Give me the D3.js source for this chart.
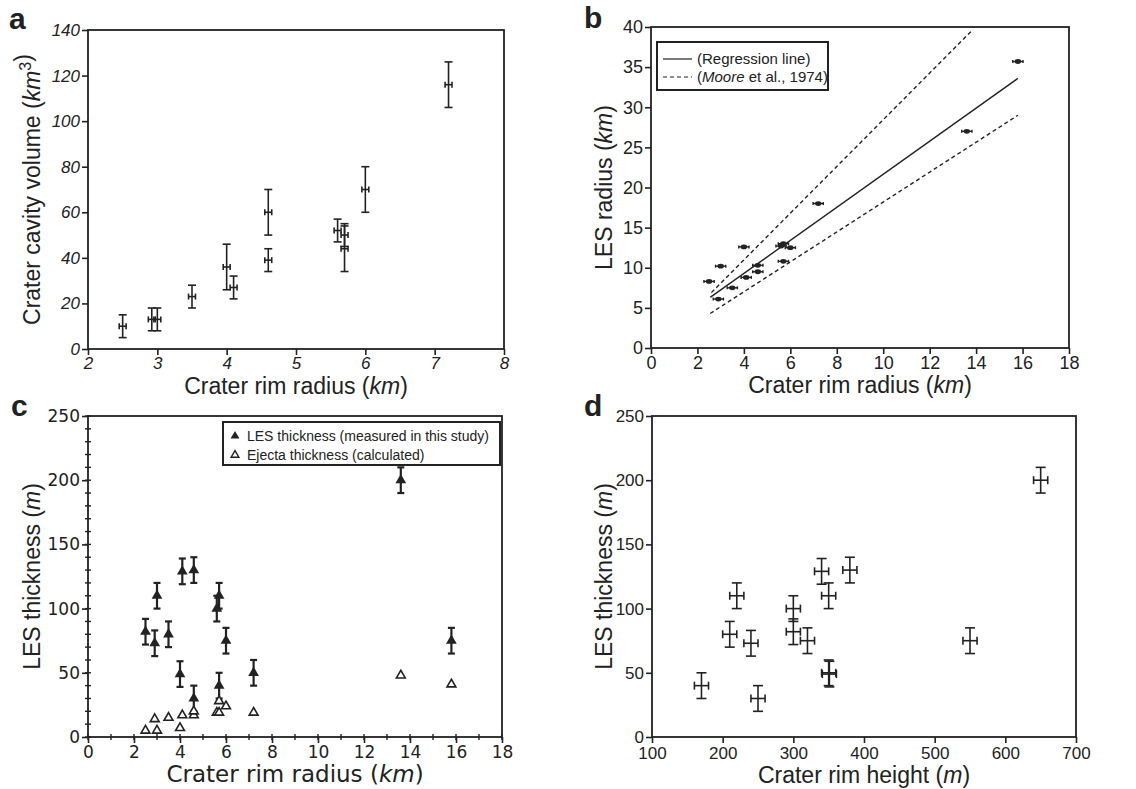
<!DOCTYPE html>
<html lang="en">
<head>
<meta charset="UTF-8">
<title>Crater rim radius vs LES</title>
<script src="https://cdn.jsdelivr.net/npm/d3@7"></script>
<style>
  body { margin: 0; background: #fff; }
  svg { display: block; }
</style>
</head>
<body>
<svg id="fig" width="1136" height="789"></svg>
<script>
// --- panel a: crater cavity volume vs crater rim radius
const aRimRadius = [2.5, 2.92, 3.0, 3.5, 4.0, 4.1, 4.6, 4.6, 5.6, 5.7, 5.7, 6.0, 7.2];
const aVolume    = [10, 13, 13, 23, 36, 27, 60, 39, 52, 50, 44, 70, 116];
const aVolumeErr = [5, 5, 5, 5, 10, 5, 10, 5, 5, 5, 10, 10, 10];
const aRadiusErr = 0.05;
const aXTicks = [2, 3, 4, 5, 6, 7, 8];
const aYTicks = [0, 20, 40, 60, 80, 100, 120, 140];

// --- panel b: LES radius vs crater rim radius
const bRimRadius = [2.5, 2.9, 3.0, 3.5, 4.0, 4.1, 4.6, 4.6, 5.6, 5.7, 5.7, 6.0, 7.2, 13.6, 15.8];
const bLesRadius = [8.3, 6.1, 10.2, 7.5, 12.6, 8.8, 10.3, 9.5, 12.7, 13.0, 10.8, 12.5, 18.0, 27.0, 35.7];
const bRadiusErr = 0.22;
const regLineX = [2.55, 15.8], regLineY = [6.3, 33.6];
const mooreUpX = [2.6, 13.8],  mooreUpY = [6.9, 39.5];
const mooreLoX = [2.55, 15.8], mooreLoY = [4.3, 29.0];
const bXTicks = [0, 2, 4, 6, 8, 10, 12, 14, 16, 18];
const bYTicks = [0, 5, 10, 15, 20, 25, 30, 35, 40];

// --- panel c: LES / ejecta thickness vs crater rim radius
const cRimRadius = [2.5, 2.9, 3.0, 3.5, 4.0, 4.1, 4.6, 4.6, 5.6, 5.7, 5.7, 6.0, 7.2, 13.6, 15.8];
const cLesThick  = [82, 73, 110, 80, 49, 129, 130, 30, 100, 110, 40, 75, 50, 200, 75];
const cThickErr  = 10;
const cEjRadius  = [2.5, 2.9, 3.0, 3.5, 4.0, 4.1, 4.6, 4.6, 5.6, 5.7, 5.7, 6.0, 7.2, 13.6, 15.8];
const cEjThick   = [5, 14, 5, 15, 7, 17, 17, 20, 19, 19, 28, 24, 19, 48, 41];
const cXTicks = [0, 2, 4, 6, 8, 10, 12, 14, 16, 18];
const cYTicks = [0, 50, 100, 150, 200, 250];

// --- panel d: LES thickness vs crater rim height
const dRimHeight = [170, 210, 220, 240, 250, 300, 300, 320, 340, 350, 350, 351, 380, 550, 650];
const dLesThick  = [40, 80, 110, 73, 30, 100, 82, 75, 129, 110, 50, 49, 130, 75, 200];
const dHeightErr = 10, dThickErr = 10;
const dXTicks = [100, 200, 300, 400, 500, 600, 700];
const dYTicks = [0, 50, 100, 150, 200, 250];

const ink = '#222';
const arial = 'Liberation Sans, Arial, sans-serif';
const dejavu = 'DejaVu Sans, sans-serif';
const svg = d3.select('#fig');

// text made of pieces: [string, italic?, superscript?]
function richText(g, parts, size, family) {
  const t = g.append('text').attr('font-family', family).attr('font-size', size).attr('fill', ink);
  parts.forEach(p => {
    const s = t.append('tspan').text(p[0]);
    if (p[1]) s.attr('font-style', 'italic');
    if (p[2]) s.attr('font-size', size * 0.7).attr('dy', -size * 0.4);
  });
  return t;
}

function makePanel(o) {
  const g = svg.append('g');
  const x = d3.scaleLinear().domain(o.xDomain).range([o.left, o.right]);
  const y = d3.scaleLinear().domain(o.yDomain).range([o.bottom, o.top]);
  const fmt = d3.format('d');

  const xa = g.append('g').attr('transform', `translate(0,${o.bottom})`)
    .call(d3.axisBottom(x).tickValues(o.xTicks).tickFormat(fmt).tickSize(6).tickPadding(o.xPad || 2).tickSizeOuter(0));
  const ya = g.append('g').attr('transform', `translate(${o.left},0)`)
    .call(d3.axisLeft(y).tickValues(o.yTicks).tickFormat(fmt).tickSize(6).tickPadding(2).tickSizeOuter(0));
  [xa, ya].forEach(a => {
    a.select('.domain').remove();
    a.selectAll('line').attr('stroke', ink).attr('stroke-width', 1.6);
    a.selectAll('text').attr('fill', ink).attr('font-family', o.tickFont)
      .attr('font-size', o.tickSize).attr('font-style', o.tickItalic ? 'italic' : null);
  });

  g.append('rect')
    .attr('x', o.left).attr('y', o.top)
    .attr('width', o.right - o.left).attr('height', o.bottom - o.top)
    .attr('fill', 'none').attr('stroke', ink).attr('stroke-width', 1.8);

  richText(g, o.xTitle, o.titleSize, o.xTitleFont || arial)
    .attr('text-anchor', 'middle')
    .attr('x', (o.left + o.right) / 2).attr('y', o.xTitleY);
  richText(g, o.yTitle, o.titleSize, arial)
    .attr('text-anchor', 'middle')
    .attr('transform', `translate(${o.yTitleX},${(o.top + o.bottom) / 2}) rotate(-90)`);

  g.append('text').text(o.letter)
    .attr('x', o.letterX).attr('y', o.letterY)
    .attr('font-family', arial).attr('font-weight', 'bold').attr('font-size', 30).attr('fill', ink);

  return { g, x, y };
}

// vertical and/or horizontal error bars with caps
function errorBars(g, pts, capV, capH, width) {
  const eb = g.append('g').attr('stroke', ink).attr('stroke-width', width).attr('fill', 'none');
  pts.forEach(p => {
    if (p.y0 !== undefined) {
      eb.append('line').attr('x1', p.cx).attr('x2', p.cx).attr('y1', p.y0).attr('y2', p.y1);
      eb.append('line').attr('x1', p.cx - capV).attr('x2', p.cx + capV).attr('y1', p.y0).attr('y2', p.y0);
      eb.append('line').attr('x1', p.cx - capV).attr('x2', p.cx + capV).attr('y1', p.y1).attr('y2', p.y1);
    }
    if (p.x0 !== undefined) {
      eb.append('line').attr('y1', p.cy).attr('y2', p.cy).attr('x1', p.x0).attr('x2', p.x1);
      if (capH > 0) {
        eb.append('line').attr('y1', p.cy - capH).attr('y2', p.cy + capH).attr('x1', p.x0).attr('x2', p.x0);
        eb.append('line').attr('y1', p.cy - capH).attr('y2', p.cy + capH).attr('x1', p.x1).attr('x2', p.x1);
      }
    }
  });
}

// ---------- a
const pa = makePanel({
  left: 88, right: 504, top: 30, bottom: 349,
  xDomain: [2, 8], yDomain: [0, 140], xTicks: aXTicks, yTicks: aYTicks,
  tickFont: arial, tickSize: 17, tickItalic: true, titleSize: 23,
  xTitle: [['Crater rim radius ('], ['km', true], [')']], xTitleY: 394,
  yTitle: [['Crater cavity volume ('], ['km', true], ['3', false, true], [')', false]], yTitleX: 40,
  letter: 'a', letterX: 9, letterY: 29
});
errorBars(pa.g, aRimRadius.map((r, i) => ({
  cx: pa.x(r), cy: pa.y(aVolume[i]),
  y0: pa.y(aVolume[i] - aVolumeErr[i]), y1: pa.y(aVolume[i] + aVolumeErr[i]),
  x0: pa.x(r - aRadiusErr), x1: pa.x(r + aRadiusErr)
})), 4, 3, 1.6);

// ---------- b
const pb = makePanel({
  left: 651, right: 1069, top: 27, bottom: 348,
  xDomain: [0, 18], yDomain: [0, 40], xTicks: bXTicks, yTicks: bYTicks,
  tickFont: arial, tickSize: 18, tickItalic: false, titleSize: 23,
  xTitle: [['Crater rim radius ('], ['km', true], [')']], xTitleY: 393,
  yTitle: [['LES radius ('], ['km', true], [')']], yTitleX: 612,
  letter: 'b', letterX: 584, letterY: 28
});
const bLine = d3.line().x(d => pb.x(d[0])).y(d => pb.y(d[1]));
pb.g.append('path').attr('d', bLine(d3.zip(regLineX, regLineY)))
  .attr('stroke', ink).attr('stroke-width', 1.4).attr('fill', 'none');
[[mooreUpX, mooreUpY], [mooreLoX, mooreLoY]].forEach(([lx, ly]) => {
  pb.g.append('path').attr('d', bLine(d3.zip(lx, ly)))
    .attr('stroke', ink).attr('stroke-width', 1.4).attr('stroke-dasharray', '4,3').attr('fill', 'none');
});
errorBars(pb.g, bRimRadius.map((r, i) => ({
  cx: pb.x(r), cy: pb.y(bLesRadius[i]),
  x0: pb.x(r - bRadiusErr), x1: pb.x(r + bRadiusErr)
})), 0, 1.5, 1.4);
pb.g.selectAll('ellipse.pt').data(d3.zip(bRimRadius, bLesRadius)).enter()
  .append('ellipse').attr('cx', d => pb.x(d[0])).attr('cy', d => pb.y(d[1]))
  .attr('rx', 3.2).attr('ry', 2.4).attr('fill', ink);

// legend b
const lb = pb.g.append('g').attr('transform', 'translate(657,42)');
lb.append('rect').attr('width', 171).attr('height', 48)
  .attr('fill', '#fff').attr('stroke', ink).attr('stroke-width', 2);
lb.append('line').attr('x1', 6).attr('x2', 35).attr('y1', 17).attr('y2', 17).attr('stroke', ink).attr('stroke-width', 1.2);
lb.append('line').attr('x1', 6).attr('x2', 35).attr('y1', 35).attr('y2', 35).attr('stroke', ink)
  .attr('stroke-width', 1.2).attr('stroke-dasharray', '4,3');
richText(lb, [['(Regression line)']], 15, arial).attr('x', 40).attr('y', 22);
richText(lb, [['('], ['Moore', true], [' et al., 1974)']], 15, arial).attr('x', 40).attr('y', 40);

// ---------- c
const pc = makePanel({
  left: 88, right: 502, top: 416, bottom: 737,
  xDomain: [0, 18], yDomain: [0, 250], xTicks: cXTicks, yTicks: cYTicks,
  tickFont: dejavu, tickSize: 17, tickItalic: false, titleSize: 23, xPad: 3,
  xTitle: [['Crater rim radius ('], ['km', true], [')']], xTitleY: 782, xTitleFont: dejavu,
  yTitle: [['LES thickness ('], ['m', true], [')']], yTitleX: 40,
  letter: 'c', letterX: 11, letterY: 416
});
// minor ticks crossing the axes
const cxMinor = d3.range(0, 18.5, 1);
const cyMinor = d3.range(0, 251, 10);
pc.g.append('g').selectAll('line').data(cxMinor).enter().append('line')
  .attr('x1', d => pc.x(d)).attr('x2', d => pc.x(d))
  .attr('y1', 737 - 3).attr('y2', 737 + 3).attr('stroke', ink).attr('stroke-width', 1.4);
pc.g.append('g').selectAll('line').data(cyMinor).enter().append('line')
  .attr('y1', d => pc.y(d)).attr('y2', d => pc.y(d))
  .attr('x1', 88 - 3).attr('x2', 88 + 3).attr('stroke', ink).attr('stroke-width', 1.4);
errorBars(pc.g, cRimRadius.map((r, i) => ({
  cx: pc.x(r), cy: pc.y(cLesThick[i]),
  y0: pc.y(cLesThick[i] - cThickErr), y1: pc.y(cLesThick[i] + cThickErr)
})), 3.5, 0, 2.2);
const tri = d3.symbol().type(d3.symbolTriangle);
pc.g.selectAll('path.ej').data(d3.zip(cEjRadius, cEjThick)).enter().append('path')
  .attr('d', tri.size(34)())
  .attr('transform', d => `translate(${pc.x(d[0])},${pc.y(d[1])})`)
  .attr('fill', '#fff').attr('stroke', ink).attr('stroke-width', 1.6);
pc.g.selectAll('path.les').data(d3.zip(cRimRadius, cLesThick)).enter().append('path')
  .attr('d', tri.size(50)())
  .attr('transform', d => `translate(${pc.x(d[0])},${pc.y(d[1])})`)
  .attr('fill', ink);

// legend c
const lc = pc.g.append('g').attr('transform', 'translate(223,422)');
lc.append('rect').attr('width', 277).attr('height', 43)
  .attr('fill', '#fff').attr('stroke', ink).attr('stroke-width', 2);
lc.append('path').attr('d', tri.size(34)()).attr('transform', 'translate(12,14)').attr('fill', ink);
lc.append('path').attr('d', tri.size(26)()).attr('transform', 'translate(12,33)')
  .attr('fill', '#fff').attr('stroke', ink).attr('stroke-width', 1.4);
richText(lc, [['LES thickness (measured in this study)']], 14, arial).attr('x', 24).attr('y', 19);
richText(lc, [['Ejecta thickness (calculated)']], 14, arial).attr('x', 24).attr('y', 38);

// ---------- d
const pd = makePanel({
  left: 652, right: 1076, top: 416, bottom: 737,
  xDomain: [100, 700], yDomain: [0, 250], xTicks: dXTicks, yTicks: dYTicks,
  tickFont: arial, tickSize: 17, tickItalic: false, titleSize: 23, xPad: 4,
  xTitle: [['Crater rim height ('], ['m', true], [')']], xTitleY: 783,
  yTitle: [['LES thickness ('], ['m', true], [')']], yTitleX: 612,
  letter: 'd', letterX: 584, letterY: 416
});
errorBars(pd.g, dRimHeight.map((h, i) => ({
  cx: pd.x(h), cy: pd.y(dLesThick[i]),
  y0: pd.y(dLesThick[i] - dThickErr), y1: pd.y(dLesThick[i] + dThickErr),
  x0: pd.x(h - dHeightErr), x1: pd.x(h + dHeightErr)
})), 5, 4, 1.6);
</script>
</body>
</html>
